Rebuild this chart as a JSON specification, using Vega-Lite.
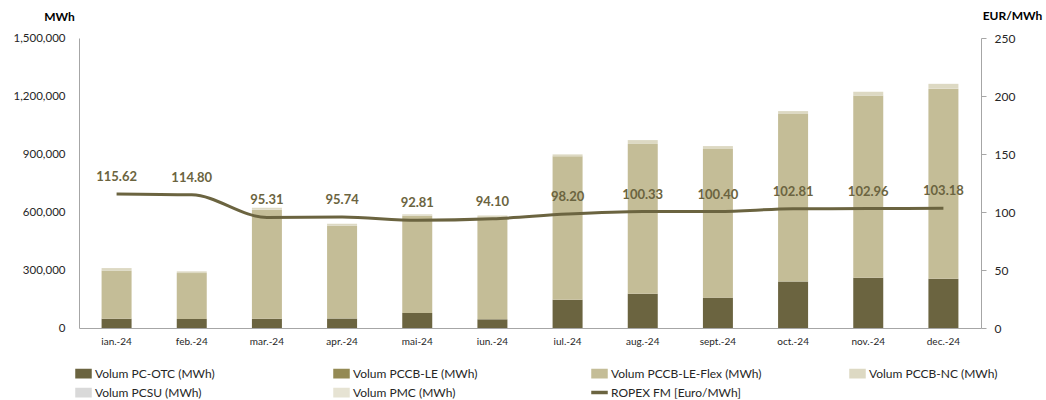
{
  "$schema": "https://vega.github.io/schema/vega-lite/v6.json",
  "width": 902,
  "height": 290,
  "autosize": {"type": "none"},
  "padding": {"left": 79, "top": 38, "right": 65, "bottom": 72},
  "config": {
    "font": "Lato",
    "view": {"stroke": null},
    "axis": {
      "grid": false,
      "domainColor": "#a6a6a6",
      "labelColor": "#262626",
      "titleColor": "#000000",
      "labelFont": "Lato",
      "titleFont": "Lato"
    }
  },
  "datasets": {
    "volumes": [
      {"month": "ian.-24", "series": "Volum PC-OTC (MWh)", "value": 48000},
      {"month": "ian.-24", "series": "Volum PCCB-LE-Flex (MWh)", "value": 250000},
      {"month": "ian.-24", "series": "Volum PCCB-NC (MWh)", "value": 12000},
      {"month": "feb.-24", "series": "Volum PC-OTC (MWh)", "value": 47000},
      {"month": "feb.-24", "series": "Volum PCCB-LE-Flex (MWh)", "value": 237000},
      {"month": "feb.-24", "series": "Volum PCCB-NC (MWh)", "value": 9000},
      {"month": "mar.-24", "series": "Volum PC-OTC (MWh)", "value": 48000},
      {"month": "mar.-24", "series": "Volum PCCB-LE-Flex (MWh)", "value": 564000},
      {"month": "mar.-24", "series": "Volum PCCB-NC (MWh)", "value": 10000},
      {"month": "apr.-24", "series": "Volum PC-OTC (MWh)", "value": 49000},
      {"month": "apr.-24", "series": "Volum PCCB-LE-Flex (MWh)", "value": 480000},
      {"month": "apr.-24", "series": "Volum PCCB-NC (MWh)", "value": 10000},
      {"month": "mai-24", "series": "Volum PC-OTC (MWh)", "value": 78000},
      {"month": "mai-24", "series": "Volum PCCB-LE-Flex (MWh)", "value": 503000},
      {"month": "mai-24", "series": "Volum PCCB-NC (MWh)", "value": 7000},
      {"month": "iun.-24", "series": "Volum PC-OTC (MWh)", "value": 45000},
      {"month": "iun.-24", "series": "Volum PCCB-LE-Flex (MWh)", "value": 527000},
      {"month": "iun.-24", "series": "Volum PCCB-NC (MWh)", "value": 10000},
      {"month": "iul.-24", "series": "Volum PC-OTC (MWh)", "value": 146000},
      {"month": "iul.-24", "series": "Volum PCCB-LE-Flex (MWh)", "value": 742000},
      {"month": "iul.-24", "series": "Volum PCCB-NC (MWh)", "value": 10000},
      {"month": "aug.-24", "series": "Volum PC-OTC (MWh)", "value": 177000},
      {"month": "aug.-24", "series": "Volum PCCB-LE-Flex (MWh)", "value": 775000},
      {"month": "aug.-24", "series": "Volum PCCB-NC (MWh)", "value": 20000},
      {"month": "sept.-24", "series": "Volum PC-OTC (MWh)", "value": 157000},
      {"month": "sept.-24", "series": "Volum PCCB-LE-Flex (MWh)", "value": 769000},
      {"month": "sept.-24", "series": "Volum PCCB-NC (MWh)", "value": 15000},
      {"month": "oct.-24", "series": "Volum PC-OTC (MWh)", "value": 240000},
      {"month": "oct.-24", "series": "Volum PCCB-LE-Flex (MWh)", "value": 867000},
      {"month": "oct.-24", "series": "Volum PCCB-NC (MWh)", "value": 15000},
      {"month": "nov.-24", "series": "Volum PC-OTC (MWh)", "value": 260000},
      {"month": "nov.-24", "series": "Volum PCCB-LE-Flex (MWh)", "value": 943000},
      {"month": "nov.-24", "series": "Volum PCCB-NC (MWh)", "value": 19000},
      {"month": "dec.-24", "series": "Volum PC-OTC (MWh)", "value": 255000},
      {"month": "dec.-24", "series": "Volum PCCB-LE-Flex (MWh)", "value": 983000},
      {"month": "dec.-24", "series": "Volum PCCB-NC (MWh)", "value": 25000}
    ],
    "ropex": [
      {"month": "ian.-24", "ropex": 115.62},
      {"month": "feb.-24", "ropex": 114.80},
      {"month": "mar.-24", "ropex": 95.31},
      {"month": "apr.-24", "ropex": 95.74},
      {"month": "mai-24", "ropex": 92.81},
      {"month": "iun.-24", "ropex": 94.10},
      {"month": "iul.-24", "ropex": 98.20},
      {"month": "aug.-24", "ropex": 100.33},
      {"month": "sept.-24", "ropex": 100.40},
      {"month": "oct.-24", "ropex": 102.81},
      {"month": "nov.-24", "ropex": 102.96},
      {"month": "dec.-24", "ropex": 103.18}
    ]
  },
  "encoding": {
    "x": {
      "field": "month",
      "type": "ordinal",
      "sort": null,
      "scale": {"paddingInner": 0.6, "paddingOuter": 0.3},
      "axis": {
        "title": null,
        "labelAngle": 0,
        "ticks": false,
        "labelPadding": 8,
        "labelFontSize": 10
      }
    }
  },
  "layer": [
    {
      "data": {"name": "volumes"},
      "mark": {"type": "bar", "width": 30},
      "encoding": {
        "y": {
          "field": "value",
          "type": "quantitative",
          "stack": "zero",
          "scale": {"domain": [0, 1500000]},
          "axis": {
            "values": [0, 300000, 600000, 900000, 1200000, 1500000],
            "format": ",d",
            "ticks": false,
            "labelPadding": 14,
            "labelFontSize": 11.5,
            "title": "MWh",
            "titleAngle": 0,
            "titleAlign": "center",
            "titleBaseline": "middle",
            "titleX": -20,
            "titleY": -22,
            "titleFontSize": 12,
            "titleFontWeight": "bold"
          }
        },
        "order": {"field": "series", "type": "nominal", "sort": "ascending"},
        "color": {
          "field": "series",
          "type": "nominal",
          "scale": {
            "domain": [
              "Volum PC-OTC (MWh)",
              "Volum PCCB-LE (MWh)",
              "Volum PCCB-LE-Flex (MWh)",
              "Volum PCCB-NC (MWh)",
              "Volum PCSU (MWh)",
              "Volum PMC (MWh)",
              "ROPEX FM [Euro/MWh]"
            ],
            "range": ["#6b6440", "#948a54", "#c4bd97", "#ddd9c3", "#d9d9d9", "#e6e3d3", "#6b6440"]
          },
          "legend": {
            "title": null,
            "orient": "none",
            "direction": "horizontal",
            "legendX": -4,
            "legendY": 327,
            "columns": 4,
            "gridAlign": "all",
            "columnPadding": 85,
            "rowPadding": 3,
            "padding": 0,
            "symbolSize": 225,
            "symbolType": "M-1,-0.55H1V0.55H-1Z",
            "labelFontSize": 12,
            "labelColor": "#262626",
            "labelLimit": 300,
            "labelOffset": 3,
            "encode": {
              "symbols": {
                "update": {
                  "shape": {"signal": "datum.value === 'ROPEX FM [Euro/MWh]' ? 'M-1,-0.13H1V0.13H-1Z' : 'M-1,-0.55H1V0.55H-1Z'"},
                  "fill": {"scale": "color", "field": "value"},
                  "stroke": {"value": "transparent"},
                  "opacity": {"value": 1}
                }
              }
            }
          }
        }
      }
    },
    {
      "data": {"name": "ropex"},
      "encoding": {
        "y": {
          "field": "ropex",
          "type": "quantitative",
          "scale": {"domain": [0, 250]},
          "axis": {
            "orient": "right",
            "values": [0, 50, 100, 150, 200, 250],
            "tickSize": 5,
            "tickColor": "#a6a6a6",
            "labelPadding": 8,
            "labelFontSize": 12,
            "title": "EUR/MWh",
            "titleAngle": 0,
            "titleAlign": "center",
            "titleBaseline": "middle",
            "titleX": 31,
            "titleY": -23,
            "titleFontSize": 12,
            "titleFontWeight": "bold"
          }
        }
      },
      "layer": [
        {
          "mark": {"type": "line", "strokeWidth": 3, "interpolate": "monotone"},
          "encoding": {"color": {"datum": "ROPEX FM [Euro/MWh]"}}
        },
        {
          "mark": {
            "type": "text",
            "dy": -17,
            "fontSize": 13,
            "fontWeight": "bold",
            "color": "#6b6440",
            "baseline": "middle"
          },
          "encoding": {"text": {"field": "ropex", "type": "quantitative", "format": ".2f"}}
        }
      ]
    }
  ],
  "resolve": {"scale": {"y": "independent"}}
}
